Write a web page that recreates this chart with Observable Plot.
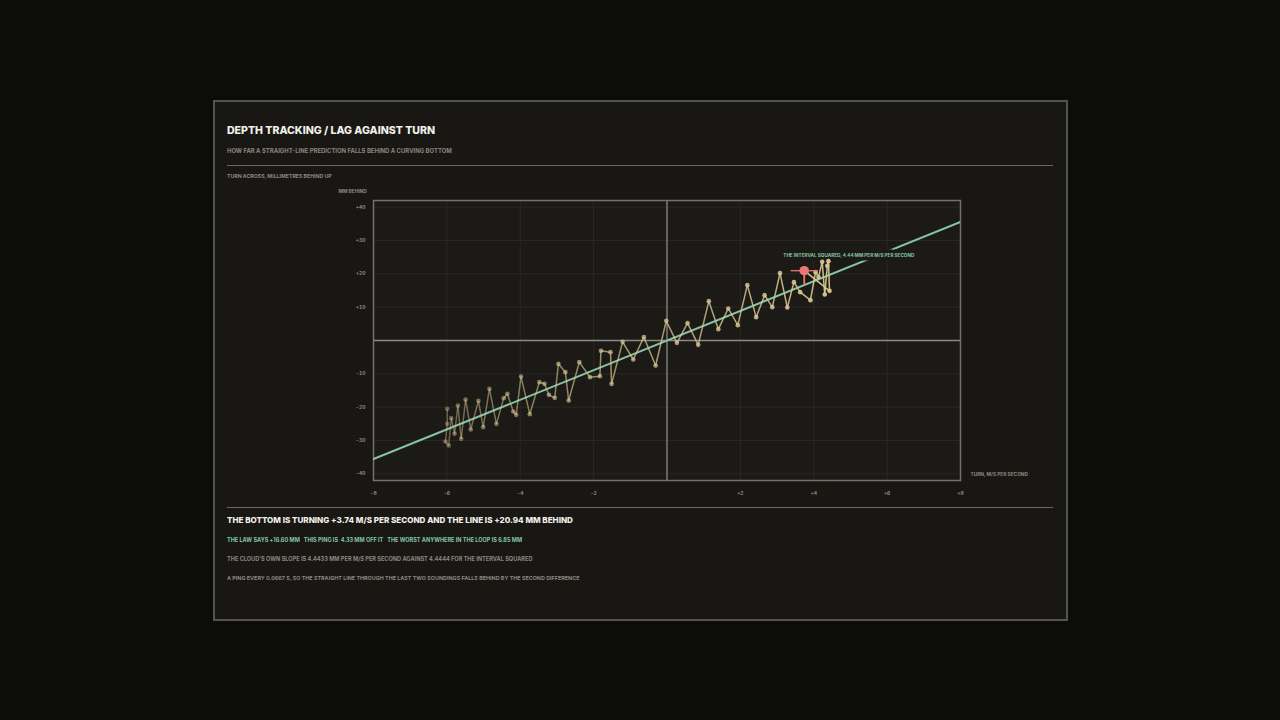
<!DOCTYPE html>
<html>
<head>
<meta charset="utf-8">
<script src="https://cdn.jsdelivr.net/npm/d3@7"></script>
<script src="https://cdn.jsdelivr.net/npm/@observablehq/plot@0.6"></script>
<style>
  html, body { margin:0; padding:0; background:#0c0c0a; }
  #page { position:relative; width:1280px; height:720px; overflow:hidden; font-family:Inter, "Noto Sans", sans-serif; }
  #card { position:absolute; left:213px; top:100px; width:851px; height:517px; background:#181714; border:2px solid #55534e; }
  .t { position:absolute; white-space:nowrap; line-height:1; text-transform:uppercase; }
  .rule { position:absolute; height:1px; background:#6a6862; }
  #chart { position:absolute; left:330px; top:180px; }
</style>
</head>
<body>
<div id="page">
  <div id="card"></div>
  <div class="t" style="left:227px;top:125.5px;font-size:10.55px;font-weight:800;color:#f1efe9;">Depth tracking / lag against turn</div>
  <div class="t" style="left:227px;top:148px;font-size:5.95px;font-weight:700;color:#8a877f;">How far a straight-line prediction falls behind a curving bottom</div>
  <div class="rule" style="left:227px;top:165px;width:826px;"></div>
  <div class="t" style="left:227px;top:173.5px;font-size:5.2px;font-weight:700;color:#8a877f;">Turn across, millimetres behind up</div>
  <div id="chart"></div>
  <div class="rule" style="left:227px;top:507px;width:826px;"></div>
  <div class="t" id="headline" style="left:227px;top:515.5px;font-size:8.05px;font-weight:800;color:#f1efe9;"></div>
  <div class="t" id="lawline" style="left:227px;top:538px;font-size:5.54px;font-weight:700;color:#86c3a3;white-space:pre;"></div>
  <div class="t" id="slopeline" style="left:227px;top:557px;font-size:5.6px;font-weight:700;color:#8a877f;"></div>
  <div class="t" id="pingline" style="left:227px;top:576px;font-size:5.41px;font-weight:700;color:#8a877f;"></div>
</div>
<script>
// ---- data ----
const turn = [-5.99,-5.99,-6.04,-5.95,-5.88,-5.79,-5.70,-5.61,-5.49,-5.35,-5.14,-5.01,-4.84,-4.65,-4.45,-4.35,-4.19,-4.11,-3.98,-3.74,-3.48,-3.34,-3.22,-3.06,-2.96,-2.77,-2.68,-2.39,-2.10,-1.83,-1.80,-1.54,-1.51,-1.21,-0.92,-0.63,-0.31,-0.02,0.27,0.56,0.85,1.14,1.40,1.67,1.93,2.19,2.43,2.66,2.87,3.08,3.28,3.46,3.63,3.91,4.05,4.13,4.23,4.30,4.37,4.40,4.43,3.74];
const lag  = [-20.5,-25.0,-30.3,-31.5,-23.3,-28.0,-19.5,-29.5,-17.7,-26.7,-18.1,-26.0,-14.5,-25.0,-17.3,-16.0,-21.3,-22.3,-10.8,-22.1,-12.5,-13.0,-16.3,-17.2,-7.0,-9.5,-18.0,-6.5,-11.0,-10.7,-3.1,-3.5,-13.0,-0.4,-5.7,1.0,-7.5,5.9,-0.7,5.2,-1.3,11.8,3.4,9.6,4.6,16.6,7.0,13.6,10.0,20.2,9.9,17.5,14.5,12.1,20.5,19.0,23.6,13.8,22.4,23.8,14.9,20.94];
const lawTurn = [-8, 8];
const lawLag = [-35.56, 35.56];
const xTicks = [-8,-6,-4,-2,2,4,6,8];
const yTicks = [40,30,20,10,-10,-20,-30,-40];
const current = {turn: 3.74, lag: 20.94, law: 16.60};
const currentSpread = [3.37, 4.11];
const texts = {
  headline: "THE BOTTOM IS TURNING +3.74 M/S PER SECOND AND THE LINE IS +20.94 MM BEHIND",
  law: "THE LAW SAYS +16.60 MM   THIS PING IS  4.33 MM OFF IT   THE WORST ANYWHERE IN THE LOOP IS 6.85 MM",
  slope: "THE CLOUD'S OWN SLOPE IS 4.4433 MM PER M/S PER SECOND AGAINST 4.4444 FOR THE INTERVAL SQUARED",
  ping: "A PING EVERY 0.0667 S, SO THE STRAIGHT LINE THROUGH THE LAST TWO SOUNDINGS FALLS BEHIND BY THE SECOND DIFFERENCE",
  note: "THE INTERVAL SQUARED, 4.44 MM PER M/S PER SECOND",
  yLabel: "MM BEHIND",
  xLabel: "TURN, M/S PER SECOND"
};

document.getElementById("headline").textContent = texts.headline;
document.getElementById("lawline").textContent = texts.law;
document.getElementById("slopeline").textContent = texts.slope;
document.getElementById("pingline").textContent = texts.ping;

const n = turn.length;
const pts = turn.map((t, i) => ({t, l: lag[i], o: 0.4 + 0.6 * i / (n - 1)}));
const trail = pts.slice(0, -1);
const segs = pts.slice(1).map((p, i) => ({x1: pts[i].t, y1: pts[i].l, x2: p.t, y2: p.l, o: pts[i].o}));
const law = lawTurn.map((t, i) => ({t, l: lawLag[i]}));
const fmt = d => d > 0 ? `+${d}` : `-${-d}`;

const tan = "#d6c591";
const red = "#ec7677";
const green = "#86c3a3";
const plotBg = "#1c1a17";

const chart = Plot.plot({
  width: 700, height: 322,
  marginLeft: 43, marginRight: 70, marginTop: 20, marginBottom: 22,
  style: {background: "transparent", color: "#8e8a80", fontFamily: "Inter, sans-serif", fontSize: "5px", fontWeight: 700},
  x: {domain: [-8, 8]},
  y: {domain: [-42, 42]},
  marks: [
    Plot.frame({fill: plotBg}),
    Plot.gridX(xTicks, {stroke: "#34322d", strokeOpacity: 0.55}),
    Plot.gridY(yTicks, {stroke: "#34322d", strokeOpacity: 0.55}),
    Plot.ruleX([0], {stroke: "#8d8a82", strokeWidth: 1.3}),
    Plot.ruleY([0], {stroke: "#8d8a82", strokeWidth: 1.3}),
    Plot.frame({stroke: "#75726b", strokeWidth: 1.5}),
    Plot.axisX({ticks: xTicks, tickFormat: fmt, tickSize: 0, tickPadding: 11, label: null, fontSize: 5}),
    Plot.axisY({ticks: yTicks, tickFormat: fmt, tickSize: 0, tickPadding: 8, label: null, fontSize: 5}),
    Plot.line(law, {x: "t", y: "l", stroke: green, strokeWidth: 2, clip: true}),
    Plot.text([texts.note], {x: 3.17, y: 25.6, text: d => d, textAnchor: "start", fill: green, stroke: plotBg, strokeWidth: 7, fontSize: 4.65, fontWeight: 700}),
    Plot.link(segs, {x1: "x1", y1: "y1", x2: "x2", y2: "y2", stroke: tan, strokeWidth: 1.5, strokeOpacity: "o"}),
    Plot.dot(trail, {x: "t", y: "l", r: 2.3, fill: tan, fillOpacity: "o", stroke: "none"}),
    Plot.link([current], {x1: currentSpread[0], x2: currentSpread[1], y1: "lag", y2: "lag", stroke: red, strokeWidth: 1.3}),
    Plot.link([current], {x1: "turn", x2: "turn", y1: "law", y2: "lag", stroke: red, strokeWidth: 1.8}),
    Plot.dot([current], {x: "turn", y: "lag", r: 4.8, fill: red, stroke: "none"}),
    Plot.text([texts.yLabel], {frameAnchor: "top-left", dx: -35, dy: -11, text: d => d, textAnchor: "start", fill: "#8e8a80", fontSize: 4.8}),
    Plot.text([texts.xLabel], {frameAnchor: "bottom-right", dx: 10, dy: -5, text: d => d, textAnchor: "start", fill: "#8e8a80", fontSize: 4.8})
  ]
});
document.getElementById("chart").appendChild(chart);
</script>
</body>
</html>
